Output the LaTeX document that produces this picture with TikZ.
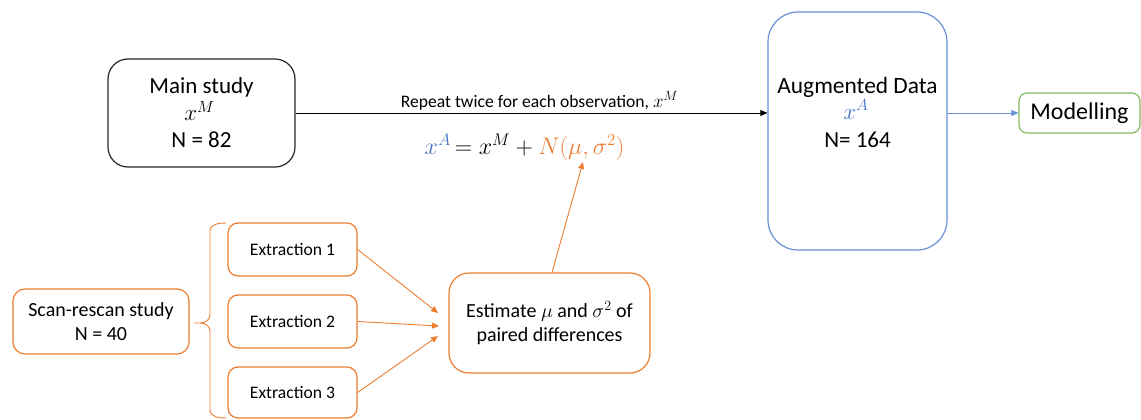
\documentclass[tikz,border=0pt]{standalone}
\usepackage{fix-cm}
\usepackage[no-math]{fontspec}
\setmainfont{Carlito}
\usetikzlibrary{arrows.meta}
\definecolor{orng}{HTML}{ED7D31}
\definecolor{blu}{HTML}{4472C4}
\definecolor{bluebox}{HTML}{6A8FD6}
\definecolor{grn}{HTML}{84BC5E}
\begin{document}
\begin{tikzpicture}[x=1pt,y=-1pt,
  rbox/.style={draw, line width=1.2pt, inner sep=0pt, align=center},
  txt/.style={inner sep=0pt, anchor=base},
  arr/.style={line width=0.9pt, -{Triangle[length=7pt,width=6pt]}},
  big/.style={font=\fontsize{23}{25}\selectfont},
  bigm/.style={font=\fontsize{23}{25}\selectfont},
  mid/.style={font=\fontsize{20}{23.5}\selectfont},
  small/.style={font=\fontsize{17.6}{20}\selectfont}]
\useasboundingbox (0,0) rectangle (1141,420);

% main study
\node[rbox, draw=black!85, rounded corners=20, minimum width=187, minimum height=108] (main) at (201.5,113) {};
\node[txt, big] (m1) at (201.5,93) {Main study};
\node[txt, bigm] (m2) at (199.5,120.5) {$x^{M}$};
\node[txt, big] (m3) at (201.5,147) {N = 82};
% augmented data
\node[rbox, draw=bluebox, rounded corners=30, minimum width=179, minimum height=238] (aug) at (857.5,131) {};
\node[txt, font=\fontsize{23.4}{25}\selectfont] (a1) at (857.5,93) {Augmented Data};
\node[txt, bigm] (a2) at (856,119) {\textcolor{blu}{$x^{A}$}};
\node[txt, big] (a3) at (857.5,147) {N= 164};
% modelling
\node[rbox, font=\fontsize{24}{26}\selectfont, draw=grn, rounded corners=8, minimum width=121, minimum height=40] (mod) at (1079.5,113) {Modelling};

% repeat label and equation
\node[txt, font=\fontsize{17.6}{20}\selectfont] (rep) at (539.5,107) {Repeat twice for each observation, {\fontsize{19}{20}\selectfont$x^{M}$}};
\node[txt, font=\fontsize{24}{26}\selectfont] (eq) at (524.5,154)
  {\textcolor{blu}{$x^{A}$}$\,=x^{M}+{}$\textcolor{orng}{$N(\mu,\sigma^{2})$}};
\coordinate (eqN) at (583,162);

% bottom part
\node[rbox, mid, draw=orng, rounded corners=12, minimum width=176, minimum height=65] (scan) at (101,321.5)
  {Scan-rescan study\\N = 40};
\node[rbox, small, draw=orng, rounded corners=10, minimum width=129, minimum height=53] (e1) at (292.5,249.5) {Extraction 1};
\node[rbox, small, draw=orng, rounded corners=10, minimum width=129, minimum height=53] (e2) at (292.5,321.5) {Extraction 2};
\node[rbox, small, draw=orng, rounded corners=10, minimum width=129, minimum height=51] (e3) at (292.5,392.5) {Extraction 3};
\node[rbox, mid, draw=orng, rounded corners=20, minimum width=201, minimum height=100] (est) at (549.5,323)
  {Estimate $\mu$ and $\sigma^{2}$ of\\paired differences};

% brace
\draw[orng, line width=0.9pt] (226,223) to[out=180,in=90] (210,231) -- (210,315)
  to[out=-90,in=0] (200,323) -- (194,323) -- (200,323) to[out=0,in=90] (210,331) -- (210,410) to[out=-90,in=180] (226,418);

% connectors
\coordinate (t1) at (438,313);
\coordinate (t2) at (439,326);
\coordinate (t3) at (438,336);
\draw[arr, black] (main.east) -- (main.east -| aug.west);
\draw[arr, bluebox] (aug.east |- mod.west) -- (mod.west);
\draw[arr, orng] (e1.east) -- (t1);
\draw[arr, orng] (e2.east) -- (t2);
\draw[arr, orng] (e3.east) -- (t3);
\draw[arr, orng] ([xshift=2.5pt]est.north) -- (eqN);
\end{tikzpicture}
\end{document}
